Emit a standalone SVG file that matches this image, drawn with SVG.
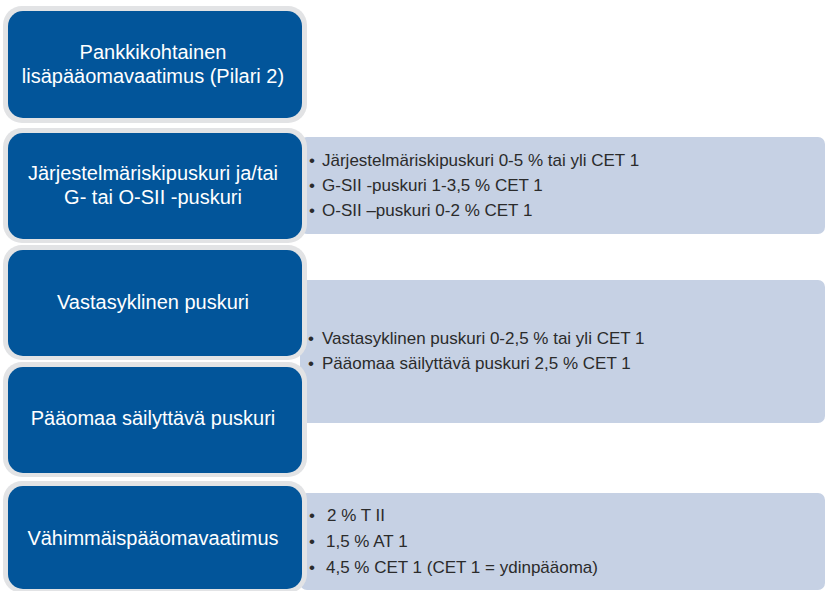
<svg xmlns="http://www.w3.org/2000/svg" width="825" height="591" viewBox="0 0 825 591">
  <style>
    .ring { fill: #e2e3e5; }
    .box { fill: #02559a; }
    .panel { fill: #c6d1e4; }
    .t { font-family: "Liberation Sans", Arial, sans-serif; font-size: 20px; fill: #ffffff; text-anchor: middle; }
    .b { font-family: "Liberation Sans", Arial, sans-serif; font-size: 17px; fill: #2b2b2b; }
  </style>
  <rect width="825" height="591" fill="#ffffff"/>

  <g id="panels">
    <g id="panel-sii">
      <rect class="panel" x="300" y="137" width="525" height="97" rx="7"/>
      <text class="b" x="309" y="166">•</text>
      <text class="b" x="322" y="166">Järjestelmäriskipuskuri 0-5 % tai yli CET 1</text>
      <text class="b" x="309" y="191">•</text>
      <text class="b" x="322" y="191">G-SII -puskuri 1-3,5 % CET 1</text>
      <text class="b" x="309" y="216">•</text>
      <text class="b" x="322" y="216">O-SII –puskuri 0-2 % CET 1</text>
    </g>
    <g id="panel-buffers">
      <rect class="panel" x="300" y="280" width="525" height="143" rx="7"/>
      <text class="b" x="308" y="344">•</text>
      <text class="b" x="322" y="344">Vastasyklinen puskuri 0-2,5 % tai yli CET 1</text>
      <text class="b" x="308" y="369">•</text>
      <text class="b" x="322" y="369">Pääomaa säilyttävä puskuri 2,5 % CET 1</text>
    </g>
    <g id="panel-min">
      <rect class="panel" x="300" y="493" width="525" height="97" rx="7"/>
      <text class="b" x="309" y="521">•</text>
      <text class="b" x="327" y="521">2 % T II</text>
      <text class="b" x="309" y="547">•</text>
      <text class="b" x="326" y="547">1,5 % AT 1</text>
      <text class="b" x="309" y="573">•</text>
      <text class="b" x="326" y="573">4,5 % CET 1 (CET 1 = ydinpääoma)</text>
    </g>
  </g>

  <g id="connectors"></g>

  <g id="node-pilari2">
    <rect class="ring" x="3" y="6" width="304" height="117" rx="19"/>
    <rect class="box" x="8" y="11" width="294" height="107" rx="15"/>
    <text class="t" x="153" y="59">Pankkikohtainen</text>
    <text class="t" x="153" y="83">lisäpääomavaatimus (Pilari 2)</text>
  </g>
  <g id="node-sii">
    <rect class="ring" x="3" y="128" width="304" height="115" rx="19"/>
    <rect class="box" x="8" y="133" width="294" height="106" rx="15"/>
    <text class="t" x="153" y="180">Järjestelmäriskipuskuri ja/tai</text>
    <text class="t" x="153" y="204">G- tai O-SII -puskuri</text>
  </g>
  <g id="node-vastasyklinen">
    <rect class="ring" x="3" y="245" width="304" height="115" rx="19"/>
    <rect class="box" x="8" y="250" width="294" height="106" rx="15"/>
    <text class="t" x="153" y="309">Vastasyklinen puskuri</text>
  </g>
  <g id="node-paaomaa">
    <rect class="ring" x="3" y="362" width="304" height="115" rx="19"/>
    <rect class="box" x="8" y="367" width="294" height="106" rx="15"/>
    <text class="t" x="153" y="425">Pääomaa säilyttävä puskuri</text>
  </g>
  <g id="node-vahimmais">
    <rect class="ring" x="3" y="481" width="304" height="112" rx="19"/>
    <rect class="box" x="8" y="486" width="294" height="103" rx="15"/>
    <text class="t" x="153" y="545">Vähimmäispääomavaatimus</text>
  </g>
</svg>
